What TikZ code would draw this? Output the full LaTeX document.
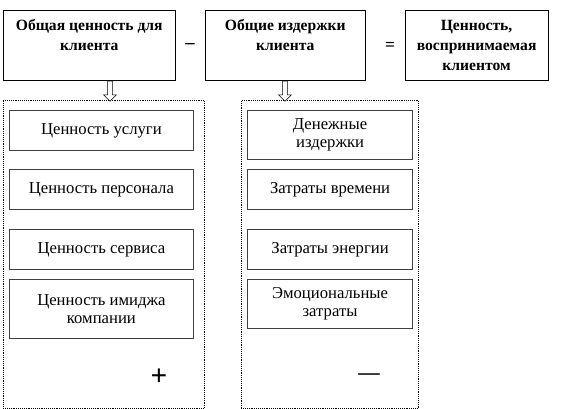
\documentclass[tikz,border=0pt]{standalone}
\usepackage{fontspec}
\setmainfont{Liberation Serif}
\usetikzlibrary{shapes.arrows}

\begin{document}
\begin{tikzpicture}[x=0.75pt,y=-0.75pt,
        topbox/.style={draw,anchor=north west,align=center,inner sep=0pt,
            font=\bfseries\fontsize{11.7}{15}\selectfont},
        part/.style={draw=black!75,line width=0.6pt,anchor=north west,
            align=center,inner sep=0pt,font=\fontsize{12.5}{13.5}\selectfont},
        group/.style={draw,densely dotted,anchor=north west,inner sep=0pt},
        hollow/.style={single arrow,draw,shape border rotate=270,inner sep=1.6pt,
            minimum height=15pt,single arrow head extend=3pt,
            single arrow head indent=0pt,fill=white}]
\useasboundingbox (0,0) rectangle (573,409);

% top row
\node[topbox,minimum width=129pt,minimum height=52.5pt] (total) at (3,10)
    {Общая ценность для\\клиента\\~};
\node[topbox,minimum width=120pt,minimum height=52.5pt] (costs) at (205,10)
    {Общие издержки\\клиента\\~};
\node[topbox,minimum width=107pt,minimum height=52.5pt] (perceived) at (405,10)
    {Ценность,\\воспринимаемая\\клиентом};
\node[font=\bfseries\fontsize{14}{14}\selectfont] (minus) at (190,46) {–};
\node[font=\bfseries\fontsize{13}{13}\selectfont] (equals) at (390,46) {=};

% groups
\node[group,minimum width=150.75pt,minimum height=231pt] (left) at (3,100) {};
\node[group,minimum width=132.75pt,minimum height=231pt] (right) at (241,100) {};
\node[hollow] (arrL) at (110,90) {};
\node[hollow] (arrR) at (285,90) {};

% value parts
\node[part,minimum width=138pt,minimum height=30pt] (v1) at (9,110) {Ценность услуги};
\node[part,minimum width=138pt,minimum height=30pt] (v2) at (9,169) {Ценность персонала};
\node[part,minimum width=138pt,minimum height=30pt] (v3) at (9,229) {Ценность сервиса};
\node[part,minimum width=138pt,minimum height=44pt] (v4) at (9,279)
    {Ценность имиджа\\компании};
\node[font=\bfseries\fontsize{22}{22}\selectfont] (plus) at (159,377) {+};

% cost parts
\node[part,minimum width=124pt,minimum height=37pt] (c1) at (247,110)
    {Денежные\\издержки};
\node[part,minimum width=124pt,minimum height=30pt] (c2) at (247,169) {Затраты времени};
\node[part,minimum width=124pt,minimum height=30pt] (c3) at (247,229) {Затраты энергии};
\node[part,minimum width=124pt,minimum height=37pt] (c4) at (247,279)
    {Эмоциональные\\затраты};
\node[font=\bfseries\fontsize{16}{16}\selectfont] (less) at (369,377) {—};

\end{tikzpicture}
\end{document}
